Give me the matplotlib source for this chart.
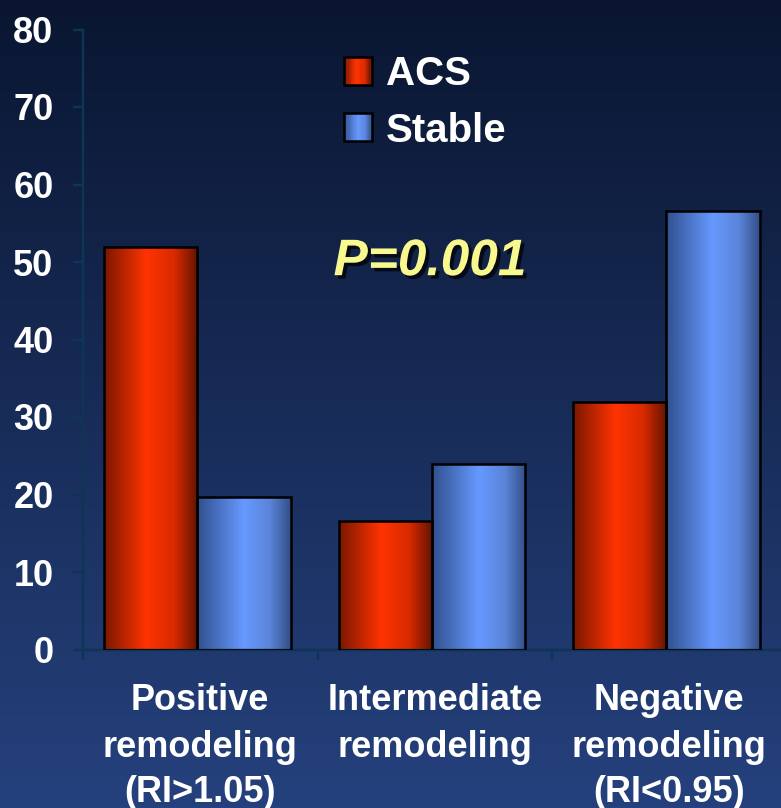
import numpy as np
import matplotlib
matplotlib.use("Agg")
import matplotlib.pyplot as plt
from matplotlib.colors import LinearSegmentedColormap, to_rgb
from matplotlib.patches import Rectangle
from matplotlib.legend_handler import HandlerBase
import matplotlib.patheffects as pe

# ---- data -------------------------------------------------------------
categories = [["Positive", "remodeling", "(RI>1.05)"],
              ["Intermediate", "remodeling"],
              ["Negative", "remodeling", "(RI<0.95)"]]
series_names = ["ACS", "Stable"]
acs_values = [51.9, 16.6, 31.9]
stable_values = [19.7, 23.9, 56.6]
y_ticks = [0, 10, 20, 30, 40, 50, 60, 70, 80]
p_label = "P=0.001"

# ---- style ------------------------------------------------------------
FONT = "Liberation Sans"
plt.rcParams["font.family"] = [FONT, "DejaVu Sans"]
plt.rcParams["font.weight"] = "bold"

W, H, DPI = 781, 808, 100
fig = plt.figure(figsize=(W / DPI, H / DPI), dpi=DPI)

# background: vertical navy gradient
bg = fig.add_axes([0, 0, 1, 1], zorder=-10)
top_c = np.array(to_rgb("#0a1631"))
bot_c = np.array(to_rgb("#25417d"))
t = np.linspace(0, 1, 256)[:, None]
grad = top_c[None, :] * (1 - t) + bot_c[None, :] * t
bg.imshow(grad[:, None, :], aspect="auto", extent=[0, 1, 0, 1])
bg.set_axis_off()

red_cmap = LinearSegmentedColormap.from_list(
    "red_cyl", [(0.0, "#7a1700"), (0.45, "#ff3300"), (0.75, "#d82a00"), (1.0, "#641300")])
blue_cmap = LinearSegmentedColormap.from_list(
    "blue_cyl", [(0.0, "#31508e"), (0.5, "#6699ff"), (0.78, "#5a84d8"), (1.0, "#344f88")])

# main axes, in pixel layout of the canvas
left_px, base_px, top_px, cat_px = 83, 649.5, 29.5, 234.5
ax = fig.add_axes([left_px / W, (H - base_px) / H,
                   3 * cat_px / W, (base_px - top_px) / H])
ax.patch.set_alpha(0)

x = np.arange(len(categories)) + 0.5 - 0.012
bw = 0.397
spine_c = "#0d3654"

def gradient_bars(xpos, values, cmap):
    bars = ax.bar(xpos, values, bw, facecolor="none", edgecolor="black",
                  linewidth=1.8, zorder=3)
    row = np.linspace(0, 1, 200)[None, :]
    for b in bars:
        x0, y0 = b.get_x(), b.get_y()
        im = ax.imshow(row, cmap=cmap, aspect="auto", zorder=2,
                       extent=[x0, x0 + b.get_width(), y0, y0 + b.get_height()])
        im.set_clip_path(b)
    return bars

gradient_bars(x - bw / 2, acs_values, red_cmap)
gradient_bars(x + bw / 2, stable_values, blue_cmap)

ax.set_xlim(0, 3)
ax.set_ylim(0, 80)

for s in ["top", "right"]:
    ax.spines[s].set_visible(False)
for s in ["left", "bottom"]:
    ax.spines[s].set_color(spine_c)
    ax.spines[s].set_linewidth(1.7)

ax.set_yticks(y_ticks)
ax.set_yticklabels([str(v) for v in y_ticks])
ax.set_xticks([0, 1, 2, 3])
ax.set_xticklabels([])
ax.tick_params(axis="both", direction="out", length=7.2, width=1.7, color=spine_c)
ax.tick_params(axis="y", pad=14, labelsize=26, labelcolor="white")
for lab in ax.get_yticklabels():
    lab.set_fontweight("bold")

# category labels, one line at a time (baselines in pixels below the axis)
line_base = [710, 757, 802]
xt = ax.get_xaxis_transform()
for i, lines in enumerate(categories):
    for j, txt in enumerate(lines):
        yf = -(line_base[j] - base_px) / (base_px - top_px)
        ax.text(i + 0.5, yf, txt, transform=xt, ha="center", va="baseline",
                fontsize=26, fontweight="bold", color="white", clip_on=False)

# p-value annotation
ax.text(1.48, 48.3, p_label, ha="center", va="baseline", fontsize=37,
        fontweight="bold", style="italic", color="#f8f88e", zorder=5,
        path_effects=[pe.SimplePatchShadow(offset=(2.5, -2.5),
                                           shadow_rgbFace="black", alpha=0.7),
                      pe.Normal()])

# legend with shaded swatches
class ShadedHandler(HandlerBase):
    def __init__(self, cmap):
        super().__init__()
        self.cmap = cmap

    def create_artists(self, legend, orig_handle, xdescent, ydescent,
                       width, height, fontsize, trans):
        n = 24
        arts = []
        for k in range(n):
            arts.append(Rectangle((-xdescent + width * k / n, -ydescent),
                                  width / n + 0.3, height,
                                  facecolor=self.cmap((k + 0.5) / n),
                                  edgecolor="none", transform=trans))
        arts.append(Rectangle((-xdescent, -ydescent), width, height,
                              facecolor="none", edgecolor="black",
                              linewidth=1.8, transform=trans))
        return arts

h_acs = Rectangle((0, 0), 1, 1)
h_st = Rectangle((0, 0), 1, 1)
leg = fig.legend([h_acs, h_st], series_names,
                 handler_map={h_acs: ShadedHandler(red_cmap),
                              h_st: ShadedHandler(blue_cmap)},
                 loc="upper left", bbox_to_anchor=(344 / W, 1 - 55 / H),
                 frameon=False, fontsize=29, handlelength=0.69, handleheight=0.69,
                 handletextpad=0.35, labelspacing=0.46, borderpad=0, borderaxespad=0,
                 prop={"family": FONT, "weight": "bold", "size": 29})
for tx in leg.get_texts():
    tx.set_color("white")

fig.savefig("out.png", dpi=DPI)
